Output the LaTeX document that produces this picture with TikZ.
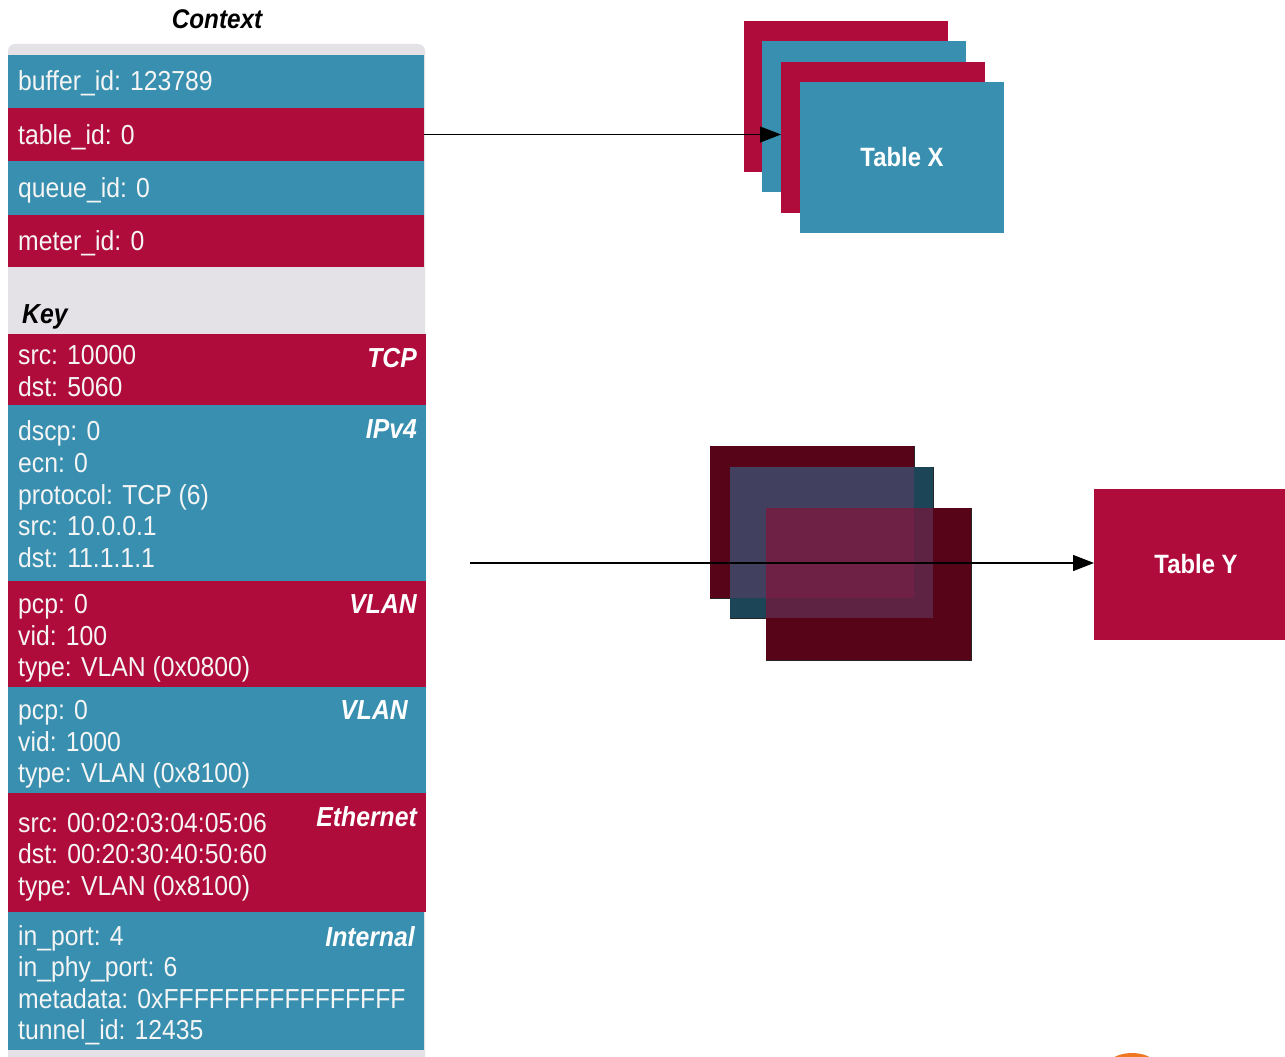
\documentclass[tikz,border=0pt]{standalone}
\usepackage{fontspec}
\setmainfont{Liberation Sans}
\newfontfamily\labfont[FakeStretch=0.9]{Liberation Sans}
\usetikzlibrary{arrows.meta}
\definecolor{cteal}{RGB}{56,143,175}
\definecolor{ccrim}{RGB}{175,12,60}
\definecolor{cgrey}{RGB}{228,226,231}
\definecolor{dcrim}{RGB}{87,4,25}
\definecolor{dteal}{RGB}{28,70,87}
\definecolor{mixa}{RGB}{65,64,94}
\definecolor{mixb}{RGB}{94,35,66}
\definecolor{mixc}{RGB}{110,32,69}
\definecolor{corange}{RGB}{240,120,32}
\definecolor{txtw}{RGB}{245,245,245}
\begin{document}
\begin{tikzpicture}[x=1pt,y=-1pt,
  rowbox/.style={inner sep=0pt, outer sep=0pt, anchor=north west, draw=none},
  txt/.style={inner sep=0pt, anchor=base west, text=txtw, font=\labfont\fontsize{27.5}{31.5}\selectfont},
  tag/.style={inner sep=0pt, anchor=base east, text=white, font=\labfont\bfseries\itshape\fontsize{27.5}{31.5}\selectfont},
  title/.style={inner sep=0pt, text=black, font=\labfont\bfseries\itshape\fontsize{27}{31}\selectfont},
  tbl/.style={inner sep=0pt, outer sep=0pt, anchor=north west, minimum width=204pt, minimum height=151pt},
  tbltxt/.style={text=white, font=\labfont\bfseries\fontsize{26.5}{30}\selectfont},
  shadow/.style={draw=black!85, line width=1pt},
  arr/.style={draw=black, line width=1.3pt, -{Triangle[length=21pt,width=16pt]}}]
\useasboundingbox (0,0) rectangle (1285,1057);
\clip (0,0) rectangle (1285,1057);
\fill[white] (0,0) rectangle (1285,1057);

% grey panel
\fill[cgrey] (8,1060) {[rounded corners=7pt] -- (8,44) -- (425,44)} -- (425,1060) -- cycle;
\node[title, anchor=base] (ctx) at (217,29) {Context};

% context rows
\node[rowbox, fill=cteal, minimum width=416pt, minimum height=54pt] (buf) at (8,55) {};
\node[rowbox, fill=ccrim, minimum width=416pt, minimum height=53pt] (tab) at (8,108) {};
\node[rowbox, fill=cteal, minimum width=416pt, minimum height=54pt] (que) at (8,161) {};
\node[rowbox, fill=ccrim, minimum width=416pt, minimum height=52pt] (met) at (8,215) {};
\node[txt] (t1) at (18,91) {buffer\_id: 123789};
\node[txt] (t2) at (18,144) {table\_id: 0};
\node[txt] (t3) at (18,197) {queue\_id: 0};
\node[txt] (t4) at (18,250) {meter\_id: 0};

\node[title, anchor=base west, font=\labfont\bfseries\itshape\fontsize{27.5}{31}\selectfont] (key) at (22,323) {Key};

% key rows
\node[rowbox, fill=ccrim, minimum width=418pt, minimum height=71pt] (tcp) at (8,334) {};
\node[rowbox, fill=cteal, minimum width=418pt, minimum height=176pt] (ip) at (8,405) {};
\node[rowbox, fill=ccrim, minimum width=418pt, minimum height=106pt] (vl1) at (8,581) {};
\node[rowbox, fill=cteal, minimum width=418pt, minimum height=106pt] (vl2) at (8,687) {};
\node[rowbox, fill=ccrim, minimum width=418pt, minimum height=119pt] (eth) at (8,793) {};
\node[rowbox, fill=cteal, minimum width=416pt, minimum height=138pt] (int) at (8,912) {};

\node[txt] (k1) at (18,364) {src: 10000};
\node[txt] (k2) at (18,396) {dst: 5060};
\node[tag] (g1) at (417,367) {TCP};

\node[txt] (k3) at (18,440) {dscp: 0};
\node[txt] (k4) at (18,472) {ecn: 0};
\node[txt] (k5) at (18,504) {protocol: TCP (6)};
\node[txt] (k6) at (18,535) {src: 10.0.0.1};
\node[txt] (k7) at (18,567) {dst: 11.1.1.1};
\node[tag] (g2) at (417,438) {IPv4};

\node[txt] (k8) at (18,613) {pcp: 0};
\node[txt] (k9) at (18,645) {vid: 100};
\node[txt] (k10) at (18,676) {type: VLAN (0x0800)};
\node[tag] (g3) at (417,613) {VLAN};

\node[txt] (k11) at (18,719) {pcp: 0};
\node[txt] (k12) at (18,751) {vid: 1000};
\node[txt] (k13) at (18,782) {type: VLAN (0x8100)};
\node[tag] (g4) at (408,719) {VLAN};

\node[txt] (k14) at (18,832) {src: 00:02:03:04:05:06};
\node[txt] (k15) at (18,863) {dst: 00:20:30:40:50:60};
\node[txt] (k16) at (18,895) {type: VLAN (0x8100)};
\node[tag] (g5) at (417,826) {Ethernet};

\node[txt] (k17) at (18,945) {in\_port: 4};
\node[txt] (k18) at (18,976) {in\_phy\_port: 6};
\node[txt] (k19) at (18,1008) {metadata: 0xFFFFFFFFFFFFFFFF};
\node[txt] (k20) at (18,1039) {tunnel\_id: 12435};
\node[tag] (g6) at (415,946) {Internal};

% Table X stack
\node[tbl, fill=ccrim] (tx1) at (744,21) {};
\node[tbl, fill=cteal] (tx2) at (762,41) {};
\node[tbl, fill=ccrim] (tx3) at (781,62) {};
\node[tbl, fill=cteal, tbltxt] (tx4) at (800,82) {Table X};

% Table Y
\node[tbl, fill=ccrim, minimum height=151pt, tbltxt] (ty) at (1094,489) {Table Y};

% overlapping boxes
\draw[shadow] (914.5,446) -- (914.5,598.5) -- (710,598.5);
\fill[dcrim] (710,446) rectangle (914,598);
\draw[shadow] (933.5,467) -- (933.5,618.5) -- (730,618.5);
\fill[dteal] (730,467) rectangle (933,618);
\fill[mixa] (730,467) rectangle (914,598);
\draw[shadow] (971.5,508) -- (971.5,660.5) -- (766,660.5);
\fill[dcrim] (766,508) rectangle (971,660);
\fill[mixb] (766,508) rectangle (933,618);
\fill[mixc] (766,508) rectangle (914,598);

% arrows
\draw[arr] (tab.east) -- (tx3.west |- tab.east);
\coordinate (a2) at (470,563);
\draw[arr] (a2) -- (ty.west |- a2);

% orange fragment
\fill[corange] (1132,1067) ellipse [x radius=25pt, y radius=14pt];
\end{tikzpicture}
\end{document}
